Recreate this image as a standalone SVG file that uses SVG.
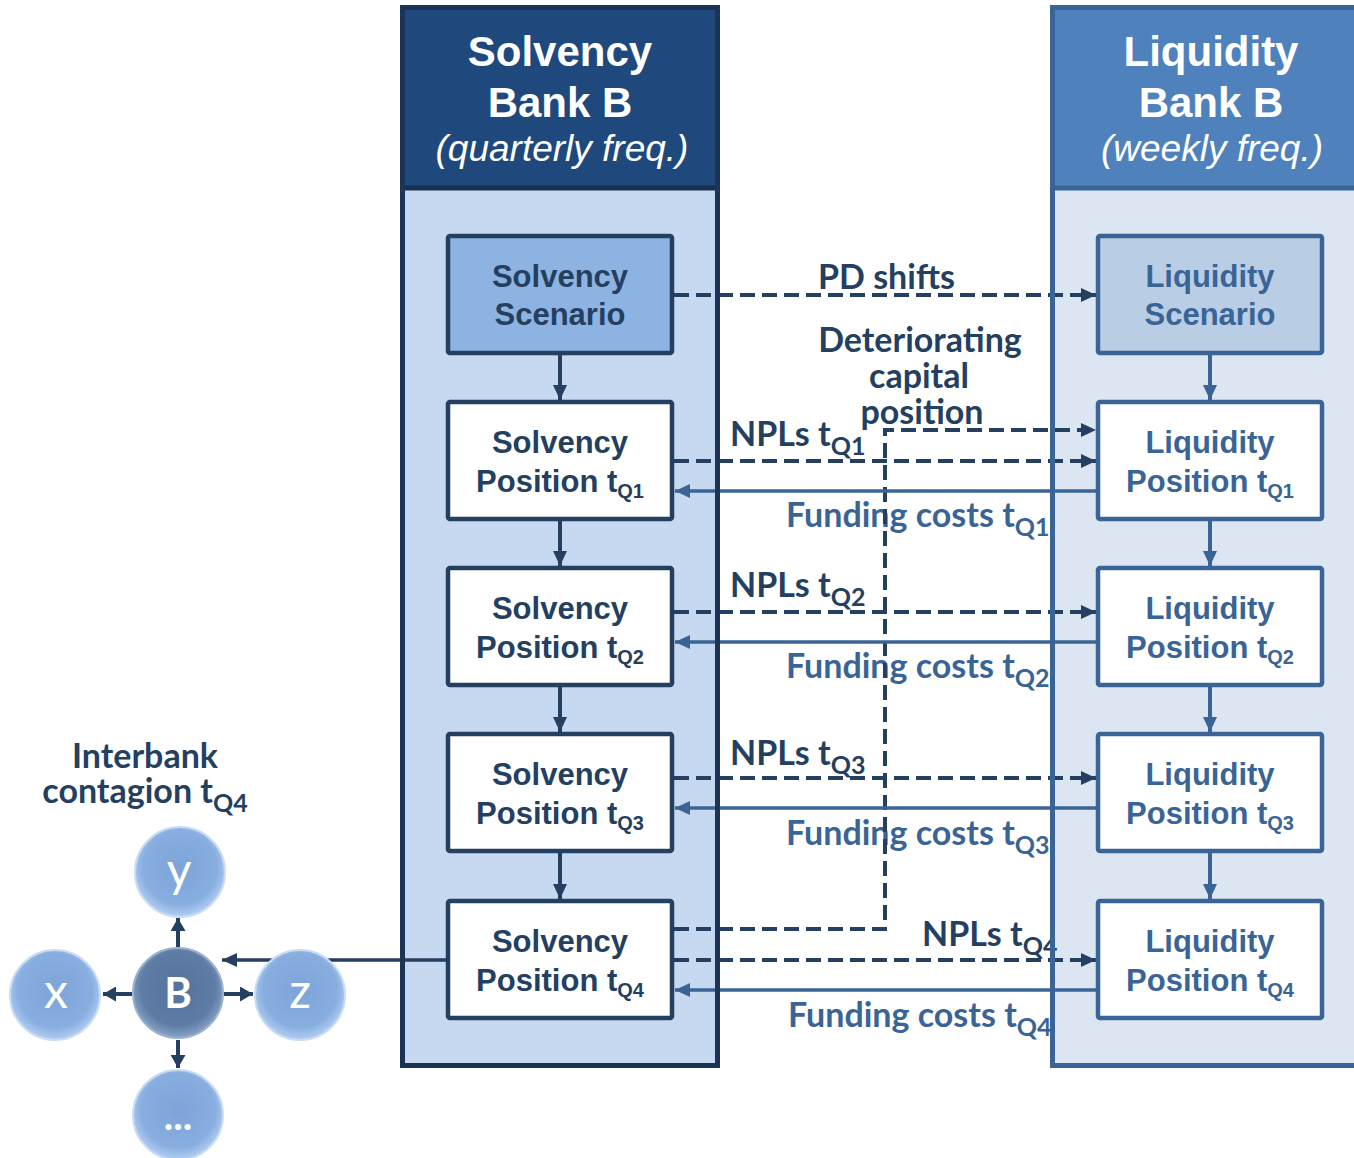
<svg xmlns="http://www.w3.org/2000/svg" width="1354" height="1158" viewBox="0 0 1354 1158">
<defs>
<style>
.hdr{font-family:"Liberation Sans",Arial,sans-serif;fill:#ffffff;text-anchor:middle}
.hb{font-size:42px;font-weight:bold}
.hi{font-size:37px;font-style:italic}
.nt{font-family:"Liberation Sans",Arial,sans-serif;font-weight:bold;font-size:31px;text-anchor:middle}
.sn{fill:#243F60}
.lq{fill:#3A6496}
.sub{font-size:20px}
.lbl{font-family:Lato,"Open Sans",sans-serif;font-weight:bold;font-size:34px}
.lsub{font-size:25px}
.nav{fill:#243F60}
.stl{fill:#3A6496}
.sbox{stroke:#243F60;stroke-width:4.5}
.lbox{stroke:#3A6496;stroke-width:4.5}
.dash{fill:none;stroke:#243F60;stroke-width:4;stroke-dasharray:15 7}
.fund{fill:none;stroke:#3A6496;stroke-width:3.5}
.navl{fill:none;stroke:#243F60;stroke-width:4}
.stll{fill:none;stroke:#3A6496;stroke-width:4}
.ball{font-family:Lato,"Open Sans",sans-serif;fill:#ffffff;text-anchor:middle}
</style>
<marker id="an" markerUnits="userSpaceOnUse" markerWidth="15" markerHeight="14" refX="15" refY="7" orient="auto"><path d="M0,0 L15,7 L0,14 z" fill="#243F60"/></marker>
<marker id="as" markerUnits="userSpaceOnUse" markerWidth="15" markerHeight="14" refX="15" refY="7" orient="auto"><path d="M0,0 L15,7 L0,14 z" fill="#3A6496"/></marker>
<marker id="ab" markerUnits="userSpaceOnUse" markerWidth="13" markerHeight="15" refX="13" refY="7.5" orient="auto"><path d="M0,0 L13,7.5 L0,15 z" fill="#243F60"/></marker>
<radialGradient id="gball" cx="50%" cy="45%" r="55%">
<stop offset="0" stop-color="#7DA4D8"/>
<stop offset="0.75" stop-color="#88AEE0"/>
<stop offset="1" stop-color="#B3CFF2"/>
</radialGradient>
<radialGradient id="gB" cx="50%" cy="45%" r="55%">
<stop offset="0" stop-color="#55729B"/>
<stop offset="0.75" stop-color="#5E7CA6"/>
<stop offset="1" stop-color="#8AA4C8"/>
</radialGradient>
</defs>

<g id="columns">
<g id="solvency-column">
<rect x="402.5" y="7.5" width="315" height="1058" fill="#C6D9F1" stroke="#1B3456" stroke-width="5"/>
<rect x="402.5" y="7.5" width="315" height="180.5" fill="#1F497D" stroke="#16304F" stroke-width="5"/>
<text class="hdr hb" x="560" y="66">Solvency</text>
<text class="hdr hb" x="560" y="117">Bank B</text>
<text class="hdr hi" x="562" y="161">(quarterly freq.)</text>
</g>
<g id="liquidity-column">
<rect x="1052.5" y="7.5" width="400" height="1058" fill="#DCE6F2" stroke="#3A6496" stroke-width="5"/>
<rect x="1052.5" y="7.5" width="400" height="180.5" fill="#4F81BD" stroke="#3A6496" stroke-width="5"/>
<text class="hdr hb" x="1211" y="66">Liquidity</text>
<text class="hdr hb" x="1211" y="117">Bank B</text>
<text class="hdr hi" x="1212" y="161">(weekly freq.)</text>
</g>
</g>

<g id="labels">
<text class="lbl nav" x="818" y="289">PD shifts</text>
<text class="lbl nav" text-anchor="middle" x="920" y="352">Deteriorating</text>
<text class="lbl nav" text-anchor="middle" x="919" y="388">capital</text>
<text class="lbl nav" text-anchor="middle" x="922" y="424">position</text>
<text class="lbl nav" x="730" y="446">NPLs t<tspan class="lsub" dy="9">Q1</tspan></text>
<text class="lbl stl" x="786" y="527">Funding costs t<tspan class="lsub" dy="9">Q1</tspan></text>
<text class="lbl nav" x="730" y="597">NPLs t<tspan class="lsub" dy="9">Q2</tspan></text>
<text class="lbl stl" x="786" y="678">Funding costs t<tspan class="lsub" dy="9">Q2</tspan></text>
<text class="lbl nav" x="730" y="765">NPLs t<tspan class="lsub" dy="9">Q3</tspan></text>
<text class="lbl stl" x="786" y="845">Funding costs t<tspan class="lsub" dy="9">Q3</tspan></text>
<text class="lbl nav" x="922" y="946">NPLs t<tspan class="lsub" dy="9">Q4</tspan></text>
<text class="lbl stl" x="788" y="1027">Funding costs t<tspan class="lsub" dy="9">Q4</tspan></text>
<text class="lbl nav" text-anchor="middle" x="145" y="768" font-size="35">Interbank</text>
<text class="lbl nav" text-anchor="middle" x="145" y="803" font-size="35">contagion t<tspan class="lsub" dy="9">Q4</tspan></text>
</g>

<g id="connectors">
<line class="dash" x1="674" y1="295" x2="1096" y2="295" marker-end="url(#an)"/>
<polyline class="dash" points="674,929 885,929 885,430 1096,430" marker-end="url(#an)"/>
<line class="dash" x1="674" y1="461" x2="1096" y2="461" marker-end="url(#an)"/>
<line class="fund" x1="1096" y1="491" x2="675" y2="491" marker-end="url(#as)"/>
<line class="dash" x1="674" y1="612" x2="1096" y2="612" marker-end="url(#an)"/>
<line class="fund" x1="1096" y1="642" x2="675" y2="642" marker-end="url(#as)"/>
<line class="dash" x1="674" y1="778" x2="1096" y2="778" marker-end="url(#an)"/>
<line class="fund" x1="1096" y1="808" x2="675" y2="808" marker-end="url(#as)"/>
<line class="dash" x1="674" y1="960" x2="1096" y2="960" marker-end="url(#an)"/>
<line class="fund" x1="1096" y1="990" x2="675" y2="990" marker-end="url(#as)"/>
<line class="navl" x1="560" y1="355" x2="560" y2="400" marker-end="url(#an)"/>
<line class="navl" x1="560" y1="521" x2="560" y2="566" marker-end="url(#an)"/>
<line class="navl" x1="560" y1="687" x2="560" y2="732" marker-end="url(#an)"/>
<line class="navl" x1="560" y1="853" x2="560" y2="899" marker-end="url(#an)"/>
<line class="stll" x1="1210" y1="355" x2="1210" y2="400" marker-end="url(#as)"/>
<line class="stll" x1="1210" y1="521" x2="1210" y2="566" marker-end="url(#as)"/>
<line class="stll" x1="1210" y1="687" x2="1210" y2="732" marker-end="url(#as)"/>
<line class="stll" x1="1210" y1="853" x2="1210" y2="899" marker-end="url(#as)"/>
<line fill="none" stroke="#243F60" stroke-width="3.5" x1="446" y1="960" x2="222" y2="960" marker-end="url(#an)"/>
<line class="navl" x1="178" y1="947" x2="178" y2="918" marker-end="url(#ab)"/>
<line class="navl" x1="132" y1="994" x2="103" y2="994" marker-end="url(#ab)"/>
<line class="navl" x1="224" y1="994" x2="253" y2="994" marker-end="url(#ab)"/>
<line class="navl" x1="178" y1="1040" x2="178" y2="1068" marker-end="url(#ab)"/>
</g>

<g id="column-borders" fill="none">
<rect x="402.5" y="7.5" width="315" height="1058" stroke="#1B3456" stroke-width="5"/>
<rect x="1052.5" y="7.5" width="400" height="1058" stroke="#3A6496" stroke-width="5"/>
</g>

<g id="solvency-scenario">
<rect class="sbox" x="448" y="236" width="224" height="117" rx="2" fill="#8DB3E2"/>
<text class="nt sn" x="560" y="287">Solvency</text>
<text class="nt sn" x="560" y="325">Scenario</text>
</g>
<g id="solvency-q1">
<rect class="sbox" x="448" y="402" width="224" height="117" rx="2" fill="#ffffff"/>
<text class="nt sn" x="560" y="453">Solvency</text>
<text class="nt sn" x="560" y="492">Position t<tspan class="sub" dy="6">Q1</tspan></text>
</g>
<g id="solvency-q2">
<rect class="sbox" x="448" y="568" width="224" height="117" rx="2" fill="#ffffff"/>
<text class="nt sn" x="560" y="619">Solvency</text>
<text class="nt sn" x="560" y="658">Position t<tspan class="sub" dy="6">Q2</tspan></text>
</g>
<g id="solvency-q3">
<rect class="sbox" x="448" y="734" width="224" height="117" rx="2" fill="#ffffff"/>
<text class="nt sn" x="560" y="785">Solvency</text>
<text class="nt sn" x="560" y="824">Position t<tspan class="sub" dy="6">Q3</tspan></text>
</g>
<g id="solvency-q4">
<rect class="sbox" x="448" y="901" width="224" height="117" rx="2" fill="#ffffff"/>
<text class="nt sn" x="560" y="952">Solvency</text>
<text class="nt sn" x="560" y="991">Position t<tspan class="sub" dy="6">Q4</tspan></text>
</g>

<g id="liquidity-scenario">
<rect class="lbox" x="1098" y="236" width="224" height="117" rx="2" fill="#B9CDE5"/>
<text class="nt lq" x="1210" y="287">Liquidity</text>
<text class="nt lq" x="1210" y="325">Scenario</text>
</g>
<g id="liquidity-q1">
<rect class="lbox" x="1098" y="402" width="224" height="117" rx="2" fill="#ffffff"/>
<text class="nt lq" x="1210" y="453">Liquidity</text>
<text class="nt lq" x="1210" y="492">Position t<tspan class="sub" dy="6">Q1</tspan></text>
</g>
<g id="liquidity-q2">
<rect class="lbox" x="1098" y="568" width="224" height="117" rx="2" fill="#ffffff"/>
<text class="nt lq" x="1210" y="619">Liquidity</text>
<text class="nt lq" x="1210" y="658">Position t<tspan class="sub" dy="6">Q2</tspan></text>
</g>
<g id="liquidity-q3">
<rect class="lbox" x="1098" y="734" width="224" height="117" rx="2" fill="#ffffff"/>
<text class="nt lq" x="1210" y="785">Liquidity</text>
<text class="nt lq" x="1210" y="824">Position t<tspan class="sub" dy="6">Q3</tspan></text>
</g>
<g id="liquidity-q4">
<rect class="lbox" x="1098" y="901" width="224" height="117" rx="2" fill="#ffffff"/>
<text class="nt lq" x="1210" y="952">Liquidity</text>
<text class="nt lq" x="1210" y="991">Position t<tspan class="sub" dy="6">Q4</tspan></text>
</g>

<g id="bank-y">
<circle cx="180" cy="872" r="45" fill="url(#gball)" stroke="#C9DCF4" stroke-width="2"/>
<text class="ball" x="179" y="887" font-size="48">y</text>
</g>
<g id="bank-B">
<circle cx="178" cy="993" r="45" fill="url(#gB)" stroke="#9AB0CF" stroke-width="2"/>
<text class="ball" x="178" y="1008" font-size="42" font-weight="bold">B</text>
</g>
<g id="bank-x">
<circle cx="55" cy="995" r="45" fill="url(#gball)" stroke="#C9DCF4" stroke-width="2"/>
<text class="ball" x="56" y="1008" font-size="48">x</text>
</g>
<g id="bank-z">
<circle cx="300" cy="995" r="45" fill="url(#gball)" stroke="#C9DCF4" stroke-width="2"/>
<text class="ball" x="300" y="1008" font-size="48">z</text>
</g>
<g id="bank-more">
<circle cx="178" cy="1115" r="45" fill="url(#gball)" stroke="#C9DCF4" stroke-width="2"/>
<text class="ball" x="178" y="1130" font-size="40" font-weight="bold">...</text>
</g>
</svg>
